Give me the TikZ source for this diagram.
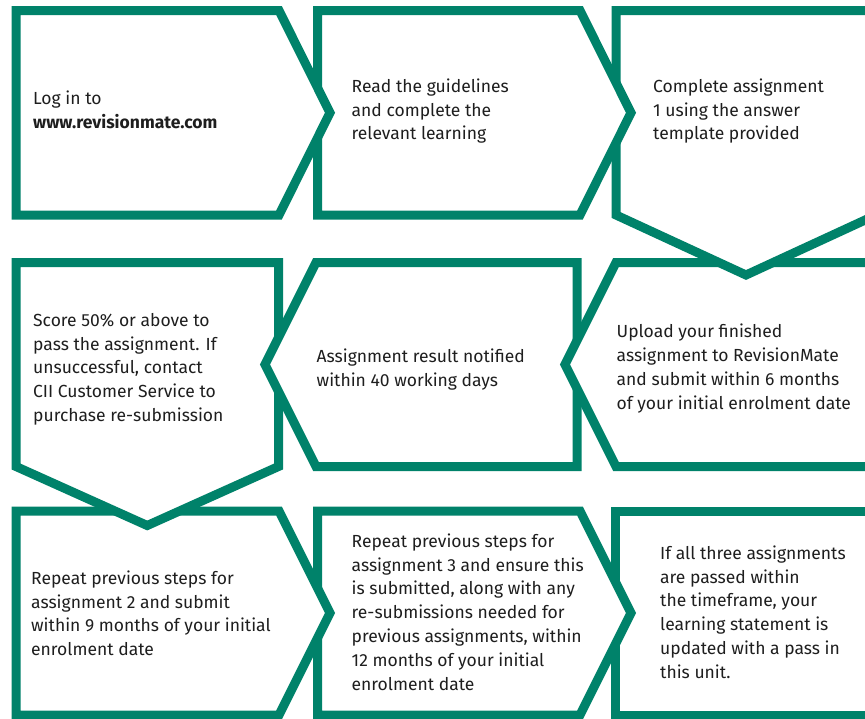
\documentclass[tikz,border=0pt]{standalone}
\usepackage{fontspec}
\setmainfont{Fira Sans}
\definecolor{ciigreen}{HTML}{00826A}
\definecolor{txtcol}{HTML}{1E1E1E}
\begin{document}
\begin{tikzpicture}[x=1pt,y=-1pt,
  box/.style={draw=ciigreen, fill=white, line width=9pt, line join=miter, miter limit=10},
  lbl/.style={anchor=north west, inner sep=0pt, align=left, text=txtcol,
    font=\fontsize{17.5}{23.8}\selectfont}]
\useasboundingbox (0,0) rectangle (865,718);
\clip (0,0) rectangle (865,718);
% row geometry
\def\rat{10.5}\def\rab{215}\def\ram{112.75}
\def\rbt{262.5}\def\rbb{466.5}\def\rbm{364.5}
\def\rct{511}\def\rcb{715}\def\rcm{613}
% ---- row 3 (drawn first) ----
\draw[box] (615.5,\rct) -- (880,\rct) -- (880,\rcb) -- (615.5,\rcb) -- cycle;
\draw[box] (317.5,\rct) -- (580,\rct) -- (631,\rcm) -- (580,\rcb) -- (317.5,\rcb) -- cycle;
\draw[box] (16,\rct) -- (279,\rct) -- (330,\rcm) -- (279,\rcb) -- (16,\rcb) -- cycle;
% ---- row 2 ----
\draw[box] (16,\rbt) -- (278.5,\rbt) -- (278.5,\rbb) -- (147.25,525.5) -- (16,\rbb) -- cycle;
\draw[box] (316,\rbt) -- (577,\rbt) -- (577,\rbb) -- (316,\rbb) -- (265,\rbm) -- cycle;
\draw[box] (616,\rbt) -- (880,\rbt) -- (880,\rbb) -- (616,\rbb) -- (565,\rbm) -- cycle;
% ---- row 1 ----
\draw[box] (616,\rat) -- (876,\rat) -- (876,\rab) -- (746,275) -- (616,\rab) -- cycle;
\draw[box] (317.5,\rat) -- (580,\rat) -- (631,\ram) -- (580,\rab) -- (317.5,\rab) -- cycle;
\draw[box] (16,\rat) -- (279,\rat) -- (330,\ram) -- (279,\rab) -- (16,\rab) -- cycle;
% ---- texts (top = first baseline - strut height 16.66) ----
\node[lbl] (t1) at (33,87.34) {\strut Log in to\\\textbf{www.revisionmate.com}};
\node[lbl] (t2) at (351.5,75.34) {\strut Read the guidelines\\and complete the\\relevant learning};
\node[lbl] (t3) at (653,75.34) {\strut Complete assignment\\1 using the answer\\template provided};
\node[lbl] (t4) at (33,309.34) {\strut Score 50\% or above to\\pass the assignment. If\\unsuccessful, contact\\CII Customer Service to\\purchase re-submission};
\node[lbl] (t5) at (316.5,345.34) {\strut Assignment result notified\\within 40 working days};
\node[lbl] (t6) at (616.5,320.84) {\strut Upload your finished\\assignment to RevisionMate\\and submit within 6 months\\of your initial enrolment date};
\node[lbl] (t7) at (31,567.34) {\strut Repeat previous steps for\\assignment 2 and submit\\within 9 months of your initial\\enrolment date};
\node[lbl] (t8) at (351.5,530.34) {\strut Repeat previous steps for\\assignment 3 and ensure this\\is submitted, along with any\\re-submissions needed for\\previous assignments, within\\12 months of your initial\\enrolment date};
\node[lbl] (t9) at (660,542.34) {\strut If all three assignments\\are passed within\\the timeframe, your\\learning statement is\\updated with a pass in\\this unit.};
\end{tikzpicture}
\end{document}
